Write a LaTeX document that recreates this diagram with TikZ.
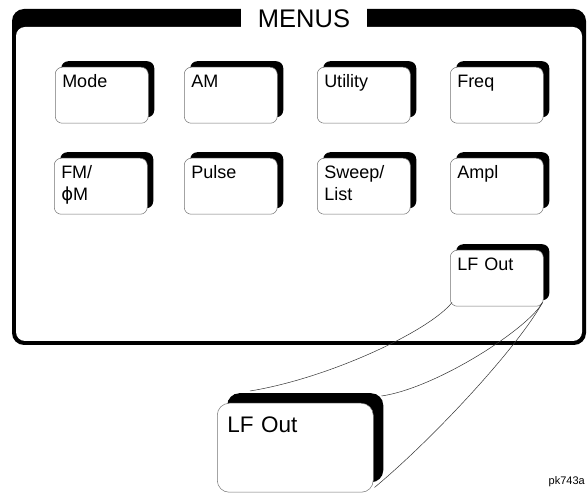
\documentclass[tikz,border=0pt]{standalone}
\usepackage{fontspec}
\setmainfont{Liberation Sans}
\newfontfamily\phifont{DejaVu Sans}
\usetikzlibrary{shadows,calc}

\begin{document}
\begin{tikzpicture}[x=1pt,y=-1pt,line join=round,
  menukey/.style={rectangle,anchor=north west,rounded corners=7pt,draw=black!55,line width=0.5pt,fill=white,
    minimum width=93pt,minimum height=56pt,inner xsep=7pt,inner ysep=8pt,text width=79pt,align=left,
    text height=12.5pt,text depth=27.5pt,font=\fontsize{18}{22}\selectfont,
    drop shadow={shadow xshift=6pt,shadow yshift=6pt,opacity=1,fill=black}},
  bigkey/.style={rectangle,anchor=north west,rounded corners=12pt,draw=black!55,line width=0.5pt,fill=white,
    minimum width=156pt,minimum height=89pt,inner xsep=10pt,inner ysep=13.5pt,text width=136pt,align=left,
    text height=16pt,text depth=46pt,font=\fontsize{22.5}{26}\selectfont,
    drop shadow={shadow xshift=10pt,shadow yshift=10pt,opacity=1,fill=black}},
  zoomline/.style={line width=0.5pt,black!80}]
  \useasboundingbox (0,0) rectangle (587,494);
  % panel frame
  \fill[rounded corners=12pt] (12,9) rectangle (586,345);
  \fill[white,rounded corners=9pt] (16,27) rectangle (582,341);
  \fill[white] (241,5) rectangle (367,28);
  \node[font=\fontsize{25.5}{25.5}\selectfont,inner sep=0pt] (menus) at (304,18.5) {MENUS};
  % keys
  \node[menukey] (mode) at (55,67) {Mode};
  \node[menukey] (am) at (184,67) {AM};
  \node[menukey] (utility) at (317,67) {Utility};
  \node[menukey] (freq) at (450,67) {Freq};
  \node[menukey] (fm) at (54,158) {FM/\\{\phifont ϕ}M};
  \node[menukey] (pulse) at (184,158) {Pulse};
  \node[menukey] (sweep) at (317,158) {Sweep/\\List};
  \node[menukey] (ampl) at (450,158) {Ampl};
  \node[menukey] (lfout) at (450,250) {LF Out};
  % enlarged key
  \node[bigkey] (lfbig) at (217,403) {LF Out};
  \draw[zoomline] ($(lfout.south west)+(2,-4)$) .. controls +(-22,28) and +(80,-13) .. ($(lfbig.north west)+(33,-12)$);
  \draw[zoomline] ($(lfout.south east)+(-1,-4)$) .. controls +(-14,26) and +(55,-8) .. ($(lfbig.north east)+(8,-7)$);
  \draw[zoomline] ($(lfout.south east)+(-1,-4)$) .. controls +(-25,45) and +(60,-50) .. ($(lfbig.south east)+(1,-5)$);
  \node[anchor=base east,font=\fontsize{11}{11}\selectfont,inner sep=0pt] (figid) at (585,485) {pk743a};
\end{tikzpicture}
\end{document}
